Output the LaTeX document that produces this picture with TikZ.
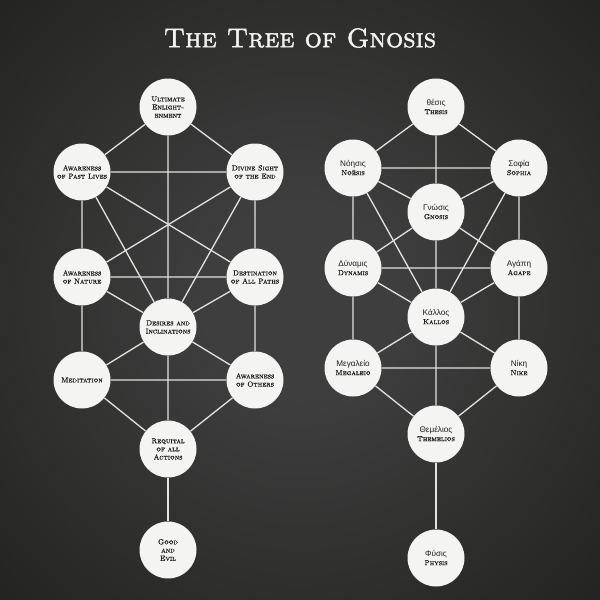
\documentclass[tikz,border=0pt]{standalone}
\usepackage{fontspec}
\newfontfamily\greekfont{Liberation Sans}[Scale=1.12]
\newfontfamily\capsfont{lmromancaps10-regular.otf}[FakeBold=0.9]
\newfontfamily\titlefont{lmromancaps10-regular.otf}[FakeBold=1.6]
\usepackage{tikz}
\usetikzlibrary{positioning}
\usepackage{xcolor}
\definecolor{BgCenter}{RGB}{62,62,62}
\definecolor{BgEdge}{RGB}{19,19,16}
\definecolor{Disc}{RGB}{244,244,242}
\definecolor{Ink}{RGB}{30,30,30}
\definecolor{Path}{RGB}{226,226,224}
\pgfdeclareradialshading{bgglow}{\pgfpoint{0bp}{0bp}}{%
  color(0bp)=(BgCenter); color(8bp)=(BgCenter); color(52bp)=(BgEdge); color(80bp)=(BgEdge)}

\begin{document}
\begin{tikzpicture}[x=1pt,y=-1pt,
  sefira/.style={circle,fill=Disc,text=Ink,minimum size=57pt,inner sep=0pt,
                 align=center,font=\fontsize{7.3}{8.2}\selectfont\capsfont},
  link/.style={draw=Path,line width=1.3pt},
]
\shade[shading=bgglow] (0,0) rectangle (600,600);
\useasboundingbox (0,0) rectangle (600,600);
\node[text=Disc,font=\fontsize{27}{28}\selectfont\titlefont] (title) at (300,38) {The Tree of Gnosis};

% left tree
\node[sefira] (ue) at (168,107) {Ultimate\\Enlight-\\enment};
\node[sefira] (pastlives) at (82,172) {Awareness\\of Past Lives};
\node[sefira] (divine) at (255,172) {Divine Sight\\of the End};
\node[sefira] (nature) at (82,277) {Awareness\\of Nature};
\node[sefira] (destination) at (255,277) {Destination\\of All Paths};
\node[sefira] (desires) at (168,327) {Desires and\\Inclinations};
\node[sefira] (meditation) at (82,380) {Meditation};
\node[sefira] (others) at (255,380) {Awareness\\of Others};
\node[sefira] (requital) at (168,449) {Requital\\of all\\Actions};
\node[sefira] (goodevil) at (168,550) {Good\\and\\Evil};

% right tree
\node[sefira] (thesis) at (436,107) {{\greekfont θέσις}\\Thesis};
\node[sefira] (noesis) at (353,168) {{\greekfont Νόησις}\\Noēsis};
\node[sefira] (sophia) at (519,168) {{\greekfont Σοφία}\\Sophia};
\node[sefira] (gnosis) at (436,212) {{\greekfont Γνώσις}\\Gnosis};
\node[sefira] (dynamis) at (353,268) {{\greekfont Δύναμις}\\Dynamis};
\node[sefira] (agape) at (519,268) {{\greekfont Αγάπη}\\Agape};
\node[sefira] (kallos) at (436,317) {{\greekfont Κάλλος}\\Kallos};
\node[sefira] (megaleio) at (353,368) {{\greekfont Μεγαλείο}\\Megaleio};
\node[sefira] (nike) at (519,368) {{\greekfont Νίκη}\\Nike};
\node[sefira] (themelios) at (436,434) {{\greekfont Θεμέλιος}\\Themelios};
\node[sefira] (physis) at (436,558) {{\greekfont Φύσις}\\Physis};

% left paths
\draw[link] (ue) -- (pastlives) (ue) -- (divine) (ue) -- (desires);
\draw[link] (pastlives) -- (divine) (pastlives) -- (nature) (pastlives) -- (destination)
  (pastlives) -- (desires);
\draw[link] (divine) -- (destination) (divine) -- (nature) (divine) -- (desires);
\draw[link] (nature) -- (destination) (nature) -- (desires) (nature) -- (meditation);
\draw[link] (destination) -- (desires) (destination) -- (others);
\draw[link] (desires) -- (meditation) (desires) -- (others) (desires) -- (requital);
\draw[link] (meditation) -- (others) (meditation) -- (requital) (others) -- (requital);
\draw[link] (requital) -- (goodevil);

% right paths
\draw[link] (thesis) -- (noesis) (thesis) -- (sophia) (thesis) -- (gnosis);
\draw[link] (noesis) -- (sophia) (noesis) -- (gnosis) (noesis) -- (dynamis)
  (noesis) -- (kallos);
\draw[link] (sophia) -- (gnosis) (sophia) -- (agape) (sophia) -- (kallos);
\draw[link] (gnosis) -- (dynamis) (gnosis) -- (agape) (gnosis) -- (kallos);
\draw[link] (dynamis) -- (agape) (dynamis) -- (kallos) (dynamis) -- (megaleio);
\draw[link] (agape) -- (kallos) (agape) -- (nike);
\draw[link] (kallos) -- (megaleio) (kallos) -- (nike) (kallos) -- (themelios);
\draw[link] (megaleio) -- (nike) (megaleio) -- (themelios) (nike) -- (themelios);
\draw[link] (themelios) -- (physis);
\end{tikzpicture}
\end{document}
